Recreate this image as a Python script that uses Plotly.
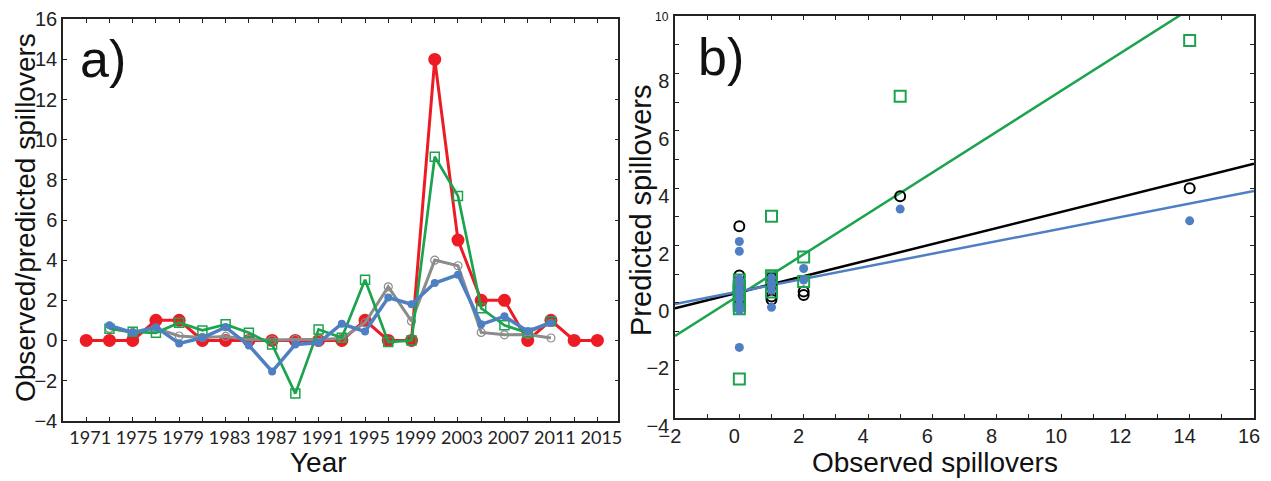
import plotly.graph_objects as go

# ---------------- data ----------------
years_obs = list(range(1971, 2016, 2))
observed = [0, 0, 0, 1, 1, 0, 0, 0, 0, 0, 0, 0, 1, 0, 0, 14, 5, 2, 2, 0, 1, 0, 0]

years_pred = list(range(1973, 2012, 2))
pred_green = [0.58, 0.43, 0.38, 0.88, 0.5, 0.8, 0.38, -0.2, -2.65, 0.55,
              0.13, 3.02, -0.08, 0.0, 9.15, 7.2, 1.6, 0.75, 0.38, 0.95]
pred_gray = [0.6, 0.4, 0.6, 0.22, 0.15, 0.2, 0.05, 0.02, 0.05, 0.05,
             0.1, 0.88, 2.67, 0.96, 4.0, 3.72, 0.4, 0.28, 0.3, 0.12]
pred_blue = [0.75, 0.38, 0.66, -0.15, 0.13, 0.66, -0.25, -1.55, -0.2, -0.12,
             0.83, 0.44, 2.14, 1.8, 2.86, 3.27, 0.8, 1.2, 0.46, 0.88]

# regression lines (intercept, slope) for panel b
fit_green = (0.27, 0.712)
fit_black = (0.37, 0.28)
fit_blue = (0.40, 0.219)
fit_x = [-2, 16]

# ---------------- style ----------------
W, H = 1271, 481
RED = "#ED1C24"
GREEN = "#1BA34E"
BLUE = "#4F7FC3"
GRAY = "#8C8C8C"
ARIAL = "Liberation Sans, Arial, sans-serif"


def px(x):
    return x / W


def py(y):
    return 1 - y / H


fig = go.Figure()

# panel a
fig.add_trace(go.Scatter(x=years_obs, y=observed, mode="lines+markers",
                         line=dict(color=RED, width=3),
                         marker=dict(symbol="circle", size=13, color=RED),
                         xaxis="x", yaxis="y"))
fig.add_trace(go.Scatter(x=years_pred, y=pred_gray, mode="lines+markers",
                         line=dict(color=GRAY, width=3),
                         marker=dict(symbol="circle-open", size=8, color=GRAY,
                                     line=dict(width=1.2)),
                         xaxis="x", yaxis="y"))
fig.add_trace(go.Scatter(x=years_pred, y=pred_green, mode="lines+markers",
                         line=dict(color=GREEN, width=2.7),
                         marker=dict(symbol="square-open", size=9, color=GREEN,
                                     line=dict(width=1.5)),
                         xaxis="x", yaxis="y"))
fig.add_trace(go.Scatter(x=years_pred, y=pred_blue, mode="lines+markers",
                         line=dict(color=BLUE, width=3.5),
                         marker=dict(symbol="circle", size=8, color=BLUE),
                         xaxis="x", yaxis="y"))

# panel b
obs_at_pred = [observed[years_obs.index(yr)] for yr in years_pred]
for (a, b), col in ((fit_green, GREEN), (fit_black, "black"), (fit_blue, BLUE)):
    fig.add_trace(go.Scatter(x=fit_x, y=[a + b * v for v in fit_x], mode="lines",
                             line=dict(color=col, width=2.5),
                             xaxis="x2", yaxis="y2"))
fig.add_trace(go.Scatter(x=obs_at_pred, y=pred_gray, mode="markers",
                         marker=dict(symbol="circle-open", size=10, color="black",
                                     line=dict(width=2)),
                         xaxis="x2", yaxis="y2"))
fig.add_trace(go.Scatter(x=obs_at_pred, y=pred_green, mode="markers",
                         marker=dict(symbol="square-open", size=11, color=GREEN,
                                     line=dict(width=2)),
                         xaxis="x2", yaxis="y2"))
fig.add_trace(go.Scatter(x=obs_at_pred, y=pred_blue, mode="markers",
                         marker=dict(symbol="circle", size=9, color=BLUE),
                         xaxis="x2", yaxis="y2"))

axis_common = dict(showgrid=False, zeroline=False, showline=True, linecolor="#222",
                   linewidth=1.5, mirror="ticks", ticks="inside", ticklen=4,
                   tickwidth=1, tickcolor="#222", automargin=False)

fig.update_layout(
    width=W, height=H, margin=dict(l=0, r=0, t=0, b=0, autoexpand=False),
    paper_bgcolor="white", plot_bgcolor="white", showlegend=False,
    xaxis=dict(domain=[px(63), px(618.3)], anchor="y", range=[1969.0, 2016.8],
               tickmode="linear", tick0=1971, dtick=4,
               minor=dict(tick0=1971, dtick=2, ticks="inside", ticklen=4, tickcolor="#222"),
               tickfont=dict(family="Lato, Open Sans, sans-serif", size=18, color="#222"),
               ticklabelshift=4, **axis_common),
    yaxis=dict(domain=[py(420.7), py(19.3)], anchor="x", range=[-4, 16],
               tickmode="linear", tick0=-4, dtick=2,
               tickfont=dict(family=ARIAL, size=20, color="#222"), **axis_common),
    xaxis2=dict(domain=[px(675), px(1254)], anchor="y2", range=[-2, 16],
                tickmode="linear", tick0=-2, dtick=2,
                minor=dict(tick0=-2, dtick=1, ticks="inside", ticklen=4, tickcolor="#222"),
                tickfont=dict(family=ARIAL, size=20, color="#222"),
                ticklabelshift=-5, **axis_common),
    yaxis2=dict(domain=[py(417.7), py(16)], anchor="x2", range=[-4, 10],
                tickmode="array", tickvals=[-4, -2, 0, 2, 4, 6, 8],
                minor=dict(tick0=-4, dtick=1, ticks="inside", ticklen=4, tickcolor="#222"),
                tickfont=dict(family=ARIAL, size=20, color="#222"),
                ticklabelshift=8, **axis_common),
)

ann_font = dict(family=ARIAL, color="#111")
annotations = [
    dict(text="a)", x=px(78), y=py(59), xanchor="left", yanchor="middle",
         font=dict(size=52, **ann_font)),
    dict(text="b)", x=px(696), y=py(57), xanchor="left", yanchor="middle",
         font=dict(size=52, **ann_font)),
    dict(text="Year", x=px(318), y=py(462), xanchor="center", yanchor="middle",
         font=dict(size=28, **ann_font)),
    dict(text="Observed spillovers", x=px(935), y=py(462), xanchor="center",
         yanchor="middle", font=dict(size=28, **ann_font)),
    dict(text="Observed/predicted spillovers", x=px(25), y=py(218), textangle=-90,
         xanchor="center", yanchor="middle", font=dict(size=28, **ann_font)),
    dict(text="Predicted spillovers", x=px(641), y=py(210), textangle=-90,
         xanchor="center", yanchor="middle", font=dict(size=29, **ann_font)),
    dict(text="10", x=px(671), y=py(17), xanchor="right", yanchor="middle",
         font=dict(size=12, **ann_font)),
]
for a in annotations:
    a.update(xref="paper", yref="paper", showarrow=False)
fig.update_layout(annotations=annotations)

fig.write_html("out.html", config={"displayModeBar": False},
               post_script="document.body.style.margin='0';document.body.style.overflow='hidden';")
